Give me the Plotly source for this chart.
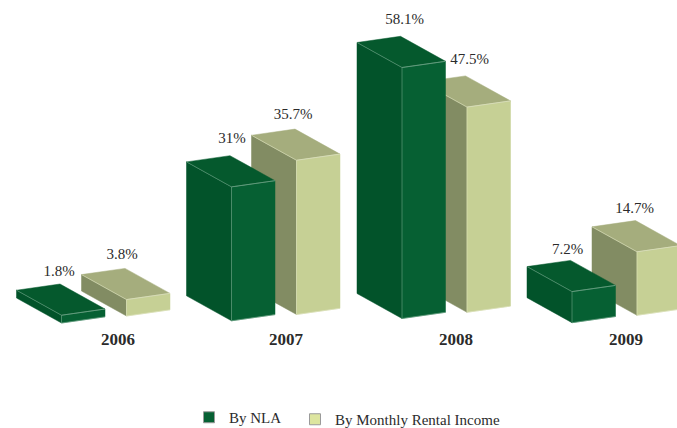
import plotly.graph_objects as go

# ---- data ----
years = [2006, 2007, 2008, 2009]
by_nla = [1.8, 31, 58.1, 7.2]
by_income = [3.8, 35.7, 47.5, 14.7]
series_names = ["By NLA", "By Monthly Rental Income"]
tick_labels = ["2006", "2007", "2008", "2009"]

# ---- drawing configuration (pixels of the 677x428 canvas) ----
W, H = 677, 428
PX_PER_YEAR = 170.0
PX_PER_UNIT = 4.32
X0_PX = 61.5      # front-left corner of the first bar
Y0_PX = 322.0     # pixel height of value zero
BAR_DX, BAR_DY = 43.5, -6.2
DEPTH_DX, DEPTH_DY = -45.0, -25.0
INCOME_DX = 65.0
GROUP_X = [0, 0, 0.5, 0.5]
BASE_NLA = [323.0, 320.8, 318.5, 322.7]
BASE_INCOME = [316.0, 314.5, 312.3, 315.3]
LABEL_NLA = [(-1, -12), (2, -16), (4, -16.5), (-3, -10)]
LABEL_INCOME = [(-3, -13), (-2, -14), (4, -16), (-1, -11)]
TICK_SHIFT = [0.332, 0.32, 0.32, 0.32]
SERIF = "Liberation Serif, Times New Roman, serif"
TEXT = "#2b2b2b"

STYLE = {
    "nla": dict(front="#066033", left="#02532A", top="#05592D", edge="#6FA488"),
    "inc": dict(front="#C6D095", left="#828C63", top="#A5AD7D", edge="#DDE3BE"),
}


def dx(px):
    return px / PX_PER_YEAR


def dv(px):
    return -px / PX_PER_UNIT


def face(points, color):
    xs, ys = zip(*(points + [points[0]]))
    return go.Scatter(x=xs, y=ys, mode="lines", fill="toself", fillcolor=color,
                      line=dict(color=color, width=0.5), hoverinfo="skip", showlegend=False)


def add_bar(fig, year, value, shift_px, base_px, style):
    x = year + dx(shift_px)
    b = dv(base_px - Y0_PX)
    t = b + value
    w_x, w_y = dx(BAR_DX), dv(BAR_DY)
    d_x, d_y = dx(DEPTH_DX), dv(DEPTH_DY)
    fig.add_trace(face([(x + d_x, b + d_y), (x, b), (x, t), (x + d_x, t + d_y)], style["left"]))
    fig.add_trace(face([(x, b), (x + w_x, b + w_y), (x + w_x, t + w_y), (x, t)], style["front"]))
    fig.add_trace(face([(x, t), (x + w_x, t + w_y), (x + w_x + d_x, t + w_y + d_y), (x + d_x, t + d_y)], style["top"]))
    edge = [(x + d_x, t + d_y), (x, t), (x + w_x, t + w_y), (x, t), (x, b), (x + w_x, b + w_y)]
    fig.add_trace(go.Scatter(x=[p[0] for p in edge], y=[p[1] for p in edge], mode="lines",
                             line=dict(color=style["edge"], width=0.6), hoverinfo="skip", showlegend=False))
    return x + w_x + d_x, t + w_y + d_y


fig = go.Figure()
lx, ly, lt = [], [], []
for i, yr in enumerate(years):
    xi = (yr - years[0]) * PX_PER_YEAR + GROUP_X[i]
    year = years[0] + xi / PX_PER_YEAR
    bx, by = add_bar(fig, year, by_income[i], INCOME_DX, BASE_INCOME[i], STYLE["inc"])
    lx.append(bx + dx(LABEL_INCOME[i][0])); ly.append(by + dv(LABEL_INCOME[i][1])); lt.append(f"{by_income[i]:g}%")
    bx, by = add_bar(fig, year, by_nla[i], 0, BASE_NLA[i], STYLE["nla"])
    lx.append(bx + dx(LABEL_NLA[i][0])); ly.append(by + dv(LABEL_NLA[i][1])); lt.append(f"{by_nla[i]:g}%")

fig.add_trace(go.Scatter(x=lx, y=ly, text=lt, mode="text", textposition="middle center",
                         textfont=dict(family=SERIF, size=15, color=TEXT),
                         hoverinfo="skip", showlegend=False))

legends = ["legend", "legend2"]
for name, col, lg in zip(series_names, ["#066033", "#DDE59F"], legends):
    fig.add_trace(go.Scatter(x=[None], y=[None], mode="markers", name=name, legend=lg,
                             marker=dict(symbol="square", size=11, color=col,
                                         line=dict(color="#9a9a9a", width=1))))

legend_common = dict(xanchor="left", yanchor="top", bgcolor="rgba(0,0,0,0)",
                     font=dict(family=SERIF, size=15, color=TEXT))
fig.update_layout(
    width=W, height=H, margin=dict(l=0, r=0, t=0, b=0, autoexpand=False),
    paper_bgcolor="white", plot_bgcolor="white",
    xaxis=dict(range=[years[0] - X0_PX / PX_PER_YEAR, years[0] + (W - X0_PX) / PX_PER_YEAR],
               tickmode="array", tickvals=[y + s for y, s in zip(years, TICK_SHIFT)], ticktext=tick_labels,
               showgrid=False, zeroline=False, showline=False, ticks="",
               tickfont=dict(family=SERIF, size=17, color=TEXT, weight="bold"),
               anchor="free", position=(H - 327) / H),
    yaxis=dict(range=[(Y0_PX - H) / PX_PER_UNIT, Y0_PX / PX_PER_UNIT], visible=False),
    legend=dict(x=189 / W, y=(H - 401) / H, **legend_common),
    legend2=dict(x=295 / W, y=(H - 403) / H, **legend_common),
    showlegend=True,
)
fig.write_html("out.html", post_script="document.body.style.margin='0';",
               config={"displayModeBar": False})
